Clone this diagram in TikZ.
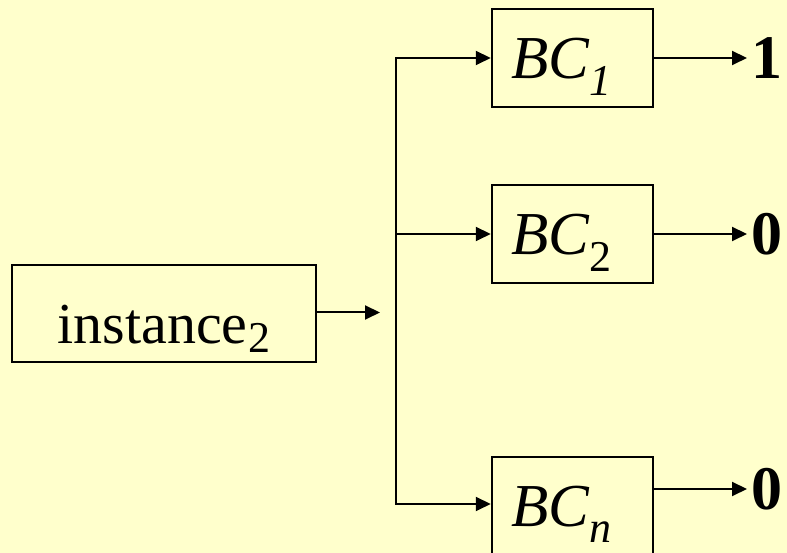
\documentclass[tikz,border=0pt]{standalone}
\usepackage{fontspec}
\setmainfont{Liberation Serif}
\usetikzlibrary{arrows.meta,positioning}

\definecolor{slidebg}{HTML}{FFFFCC}
\newcommand\lowsub[2]{\raisebox{-#1}{\fontsize{44}{44}\selectfont #2}}

\tikzset{
  unitbox/.style={draw, line width=2.5pt, minimum width=161pt, minimum height=98pt,
    inner sep=0pt, text height=42pt, text depth=0pt, font=\fontsize{61}{70}\selectfont},
  flow/.style={line width=2pt, -{Triangle[length=15pt,width=14pt]}},
  result/.style={font=\fontsize{62}{70}\selectfont\bfseries, inner xsep=4pt, inner ysep=0pt, anchor=west}
}

\begin{document}
\begin{tikzpicture}[x=1pt, y=1pt]
    \fill[slidebg] (0,0) rectangle (787,553);
    \useasboundingbox (0,0) rectangle (787,553);

    \node[unitbox, minimum width=304pt, minimum height=97pt, text height=60pt,
      font=\fontsize{58}{68}\selectfont] (inst) at (164,239.5)
      {instance\lowsub{9pt}{\kern1pt 2}};
    \node[unitbox] (bc1) at (572.5,495) {\itshape BC\lowsub{17pt}{1}\hspace*{22pt}};
    \node[unitbox] (bc2) at (572.5,319) {\itshape BC\lowsub{17pt}{\upshape 2}\hspace*{22pt}};
    \node[unitbox] (bcn) at (572.5,47)  {\itshape BC\lowsub{16pt}{n}\hspace*{22pt}};

    % split point
    \coordinate (fork) at (380,240.5);
    \coordinate (bustop) at (396,495);
    \coordinate (busmid) at (396,319);
    \coordinate (busbot) at (396,49);

    \node[result] (out1) at (747,495) {1};
    \node[result] (out2) at (747,319) {0};
    \node[result] (outn) at (747,64)  {0};

    \draw[flow] (inst.east |- fork) -- (fork);
    \draw[line width=2.5pt, line cap=rect] (bustop) -- (busbot);
    \draw[flow] (bustop) -- (bc1.west);
    \draw[flow] (busmid) -- (bc2.west);
    \draw[flow] (busbot) -- (bcn.west |- busbot);

    \draw[flow] (bc1.east) -- (out1.west);
    \draw[flow] (bc2.east) -- (out2.west);
    \draw[flow] (bcn.east |- outn) -- (outn.west);
  \end{tikzpicture}
\end{document}
